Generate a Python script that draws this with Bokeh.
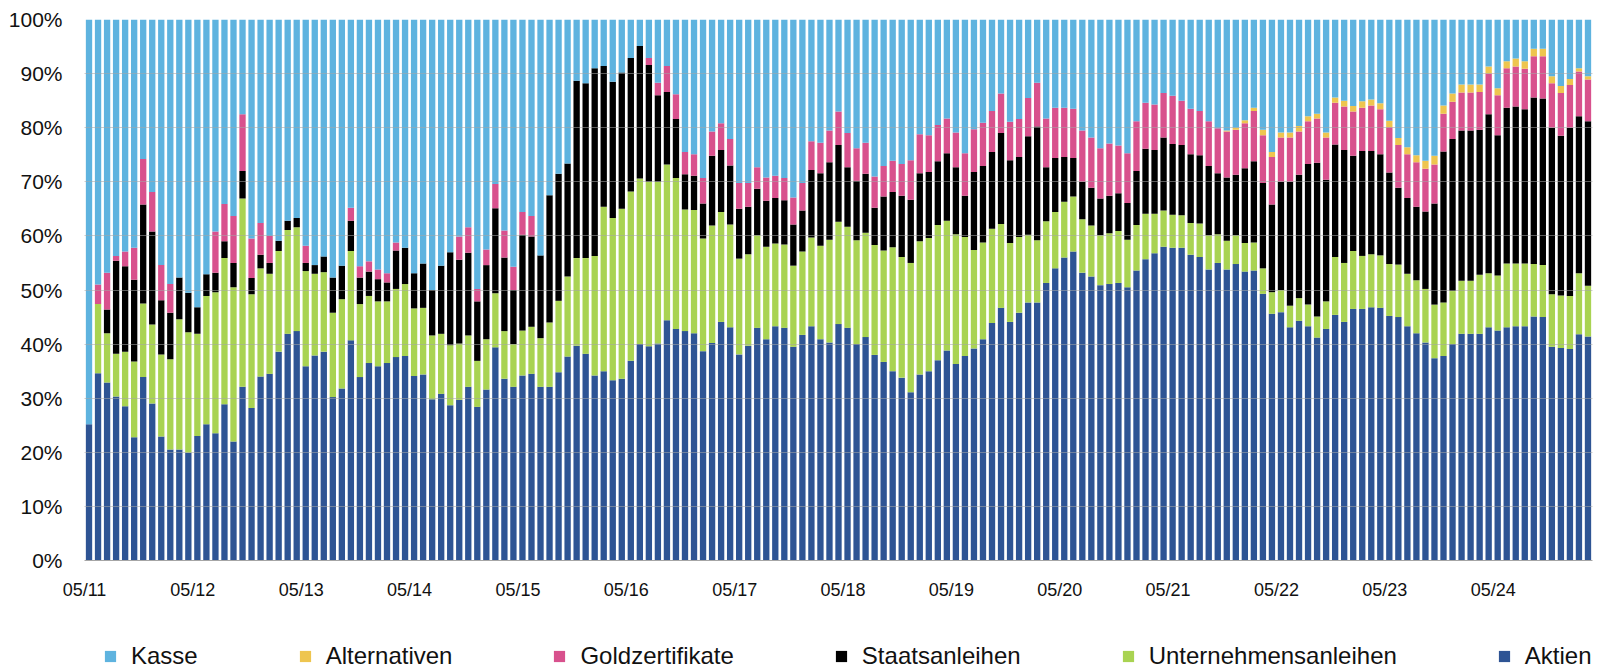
from bokeh.plotting import figure
from bokeh.layouts import column
from bokeh.models import (Range1d, FixedTicker, PrintfTickFormatter, Legend,
                          LegendItem, ColumnDataSource)
from bokeh.embed import file_html
from bokeh.resources import INLINE

# ---- data (percent of portfolio, monthly from 05/2011) ----
tick_labels = ["05/11", "05/12", "05/13", "05/14", "05/15", "05/16", "05/17",
               "05/18", "05/19", "05/20", "05/21", "05/22", "05/23", "05/24"]

aktien = [
    25.2, 34.6, 32.9, 30.3, 28.5, 22.8, 33.9, 29.0, 22.9, 20.5, 20.5, 19.9, 23.0, 25.2,
    23.5, 28.9, 22.0, 32.1, 28.2, 34.0, 34.5, 38.6, 41.9, 42.4, 35.9, 37.9, 38.6, 30.2,
    31.8, 40.7, 33.9, 36.5, 35.9, 36.5, 37.6, 37.8, 34.1, 34.4, 29.8, 30.8, 28.7, 29.7,
    32.1, 28.4, 31.6, 39.4, 33.6, 32.1, 34.2, 34.5, 32.1, 32.1, 34.8, 37.7, 39.7, 38.2,
    34.2, 35.0, 33.3, 33.6, 36.9, 40.0, 39.6, 40.1, 44.4, 42.8, 42.4, 42.0, 38.7, 40.2,
    44.1, 43.1, 38.1, 39.7, 43.0, 40.9, 43.3, 43.0, 39.5, 41.7, 43.3, 40.9, 40.3, 43.7,
    43.0, 40.0, 41.3, 38.0, 36.7, 35.0, 33.8, 31.1, 34.4, 35.0, 37.0, 38.8, 36.3, 37.8,
    39.2, 40.9, 43.9, 46.7, 44.1, 45.8, 47.7, 47.7, 51.3, 54.0, 56.0, 57.1, 53.2, 52.5,
    50.9, 51.1, 51.3, 50.5, 53.6, 55.7, 56.8, 58.0, 57.8, 57.8, 56.5, 56.1, 53.8, 55.0,
    53.8, 54.8, 53.4, 53.6, 49.3, 45.6, 45.9, 43.1, 44.3, 43.3, 41.2, 42.8, 45.4, 44.1,
    46.5, 46.5, 46.8, 46.7, 45.2, 45.0, 43.3, 42.0, 40.3, 37.4, 37.8, 40.0, 41.9, 41.9,
    41.9, 43.1, 42.5, 43.1, 43.3, 43.3, 45.1, 45.0, 39.5, 39.3, 39.1, 41.8, 41.4,
]
unternehmensanleihen = [
    0.0, 12.8, 9.1, 7.9, 10.1, 14.0, 13.6, 14.6, 15.2, 16.7, 24.1, 22.3, 18.9, 23.7,
    26.1, 27.0, 28.5, 34.8, 21.0, 20.0, 18.5, 18.6, 19.2, 19.2, 17.6, 15.1, 14.7, 15.6,
    16.5, 16.5, 13.5, 12.4, 12.0, 11.4, 12.6, 13.3, 12.5, 12.3, 11.8, 11.1, 11.1, 10.4,
    9.5, 8.5, 9.3, 10.0, 8.8, 7.9, 8.3, 8.7, 9.0, 11.9, 13.2, 14.8, 16.2, 17.7,
    22.1, 30.4, 30.0, 31.4, 31.3, 30.6, 30.4, 29.9, 28.8, 27.9, 22.5, 22.8, 20.8, 21.7,
    20.3, 19.0, 17.7, 16.9, 17.1, 17.1, 15.3, 15.4, 15.0, 15.4, 16.4, 17.3, 19.0, 18.9,
    18.7, 19.2, 19.3, 20.3, 20.6, 22.9, 22.3, 23.9, 24.6, 24.6, 25.0, 24.0, 24.0, 22.0,
    18.2, 17.9, 17.4, 15.5, 14.6, 14.0, 12.5, 11.5, 11.4, 10.4, 10.3, 10.2, 9.9, 9.4,
    9.2, 9.4, 9.6, 8.8, 8.4, 8.4, 7.3, 6.7, 6.1, 6.0, 5.9, 6.2, 6.3, 5.3,
    5.3, 5.3, 5.3, 5.2, 4.7, 4.0, 4.1, 4.0, 4.2, 4.0, 3.9, 5.1, 10.7, 10.9,
    10.7, 9.8, 9.8, 9.7, 9.6, 9.7, 9.7, 9.8, 9.9, 9.9, 9.9, 9.8, 9.8, 9.8,
    10.9, 10.0, 10.2, 11.8, 11.6, 11.6, 9.7, 9.6, 9.7, 9.7, 9.8, 11.3, 9.4,
]
staatsanleihen = [
    0.0, 0.0, 4.4, 17.2, 15.8, 15.1, 18.3, 17.2, 10.0, 8.6, 7.7, 7.3, 4.9, 4.0,
    3.6, 3.1, 4.5, 5.1, 3.0, 2.5, 2.0, 1.9, 1.7, 1.7, 1.5, 1.6, 2.9, 6.5,
    6.2, 5.6, 4.9, 4.5, 4.1, 3.5, 7.1, 6.7, 6.5, 8.2, 8.4, 12.6, 17.2, 15.5,
    15.3, 11.0, 13.7, 15.7, 13.6, 10.0, 17.7, 16.7, 15.3, 23.5, 23.5, 20.9, 32.8, 32.3,
    34.7, 26.0, 25.2, 25.2, 24.7, 24.5, 21.6, 16.0, 13.4, 10.9, 6.5, 6.3, 6.5, 12.9,
    11.5, 10.9, 9.2, 8.8, 8.6, 8.5, 8.4, 8.2, 7.6, 7.6, 12.5, 13.4, 14.3, 14.2,
    11.0, 11.0, 10.9, 6.9, 10.0, 10.2, 11.3, 11.7, 12.6, 12.2, 11.8, 12.5, 12.4, 7.6,
    14.4, 14.1, 14.2, 16.8, 15.3, 14.8, 18.2, 21.0, 10.0, 10.0, 8.3, 7.1, 6.9, 7.0,
    6.8, 6.9, 7.0, 6.8, 10.0, 12.0, 11.8, 13.5, 13.1, 13.0, 12.7, 12.6, 12.8, 11.3,
    11.7, 11.2, 13.8, 15.0, 15.8, 16.2, 20.0, 22.9, 22.8, 26.0, 28.4, 22.5, 20.8, 20.9,
    17.6, 19.4, 19.1, 18.7, 16.9, 14.2, 14.0, 13.6, 14.3, 18.7, 27.9, 28.1, 27.8, 27.8,
    26.8, 29.4, 25.9, 28.8, 29.0, 28.5, 30.8, 30.8, 30.8, 29.5, 31.1, 29.0, 30.4,
]
goldzertifikate = [
    0.0, 3.6, 6.8, 0.9, 2.7, 5.9, 8.4, 7.3, 6.5, 5.3, 0.0, 0.0, 0.0, 0.0,
    7.6, 6.9, 8.7, 10.5, 7.3, 5.9, 5.0, 0.0, 0.0, 0.0, 3.2, 0.0, 0.0, 0.0,
    0.0, 2.4, 2.1, 1.9, 1.8, 1.7, 1.5, 0.0, 0.0, 0.0, 0.0, 0.0, 0.0, 4.3,
    4.7, 2.3, 2.9, 4.5, 5.0, 4.3, 4.2, 3.8, 0.0, 0.0, 0.0, 0.0, 0.0, 0.0,
    0.0, 0.0, 0.0, 0.0, 0.0, 0.0, 1.3, 2.3, 4.8, 4.6, 4.1, 4.0, 4.7, 4.5,
    4.9, 4.9, 4.8, 4.4, 4.0, 4.3, 4.1, 4.1, 5.0, 5.1, 5.3, 5.6, 5.9, 6.2,
    6.3, 6.0, 5.7, 5.8, 5.6, 5.8, 5.9, 7.3, 7.2, 6.8, 6.7, 6.4, 6.4, 7.9,
    7.9, 8.0, 7.6, 7.3, 7.1, 7.0, 7.1, 8.1, 9.0, 9.3, 9.1, 9.1, 9.5, 9.3,
    9.3, 9.7, 8.8, 9.2, 9.2, 8.5, 8.4, 8.2, 8.9, 8.2, 8.4, 8.2, 8.3, 8.3,
    8.5, 8.3, 8.3, 9.3, 8.8, 8.8, 8.2, 8.2, 8.0, 7.9, 8.2, 7.8, 7.7, 8.0,
    8.2, 8.0, 8.4, 8.3, 8.4, 7.9, 8.1, 8.2, 7.9, 7.2, 7.0, 6.9, 7.0, 7.0,
    7.0, 7.5, 7.4, 7.3, 7.4, 7.5, 7.6, 7.8, 8.2, 7.9, 7.9, 8.3, 7.7,
]
alternativen = [
    0.0, 0.0, 0.0, 0.0, 0.0, 0.0, 0.0, 0.0, 0.0, 0.0, 0.0, 0.0, 0.0, 0.0,
    0.0, 0.0, 0.0, 0.0, 0.0, 0.0, 0.0, 0.0, 0.0, 0.0, 0.0, 0.0, 0.0, 0.0,
    0.0, 0.0, 0.0, 0.0, 0.0, 0.0, 0.0, 0.0, 0.0, 0.0, 0.0, 0.0, 0.0, 0.0,
    0.0, 0.0, 0.0, 0.0, 0.0, 0.0, 0.0, 0.0, 0.0, 0.0, 0.0, 0.0, 0.0, 0.0,
    0.0, 0.0, 0.0, 0.0, 0.0, 0.0, 0.0, 0.0, 0.0, 0.0, 0.0, 0.0, 0.0, 0.0,
    0.0, 0.0, 0.0, 0.0, 0.0, 0.0, 0.0, 0.0, 0.0, 0.0, 0.0, 0.0, 0.0, 0.0,
    0.0, 0.0, 0.0, 0.0, 0.0, 0.0, 0.0, 0.0, 0.0, 0.0, 0.0, 0.0, 0.0, 0.0,
    0.0, 0.0, 0.0, 0.0, 0.0, 0.0, 0.0, 0.0, 0.0, 0.0, 0.0, 0.0, 0.0, 0.0,
    0.0, 0.0, 0.0, 0.0, 0.0, 0.0, 0.0, 0.0, 0.0, 0.0, 0.0, 0.0, 0.0, 0.0,
    0.2, 0.4, 0.6, 0.6, 1.0, 0.9, 0.9, 0.9, 1.0, 0.9, 0.9, 0.9, 1.0, 1.1,
    1.0, 1.2, 1.1, 1.1, 1.2, 1.3, 1.3, 1.3, 1.5, 1.6, 1.5, 1.5, 1.5, 1.5,
    1.4, 1.3, 1.3, 1.3, 1.5, 1.4, 1.4, 1.4, 1.3, 1.3, 1.1, 0.6, 0.6,
]
kasse = [
    74.8, 49.0, 46.8, 43.7, 42.9, 42.2, 25.8, 31.9, 45.4, 48.9, 47.7, 50.5, 53.2, 47.1,
    39.2, 34.1, 36.3, 17.5, 40.5, 37.6, 40.0, 40.9, 37.2, 36.7, 41.8, 45.4, 43.8, 47.7,
    45.5, 34.8, 45.6, 44.7, 46.2, 46.9, 41.2, 42.2, 46.9, 45.1, 50.0, 45.5, 43.0, 40.1,
    38.4, 49.8, 42.5, 30.4, 39.0, 45.7, 35.6, 36.3, 43.6, 32.5, 28.5, 26.6, 11.3, 11.8,
    9.0, 8.6, 11.5, 9.8, 7.1, 4.9, 7.1, 11.7, 8.6, 13.8, 24.5, 24.9, 29.3, 20.7,
    19.2, 22.1, 30.2, 30.2, 27.3, 29.2, 28.9, 29.3, 32.9, 30.2, 22.5, 22.8, 20.5, 17.0,
    21.0, 23.8, 22.8, 29.0, 27.1, 26.1, 26.7, 26.0, 21.2, 21.4, 19.5, 18.3, 20.9, 24.7,
    20.3, 19.1, 16.9, 13.7, 18.9, 18.4, 14.5, 11.7, 18.3, 16.3, 16.3, 16.5, 20.5, 21.8,
    23.8, 22.9, 23.3, 24.7, 18.8, 15.4, 15.7, 13.6, 14.1, 15.0, 16.5, 16.9, 18.8, 20.1,
    20.5, 20.0, 18.6, 16.3, 20.4, 24.5, 20.9, 20.9, 19.7, 17.9, 17.4, 20.9, 14.4, 15.0,
    16.0, 15.1, 14.8, 15.5, 18.7, 21.9, 23.6, 25.1, 26.1, 25.2, 15.9, 13.7, 12.0, 12.0,
    12.0, 8.7, 12.7, 7.7, 7.2, 7.7, 5.4, 5.4, 10.5, 12.3, 11.0, 9.0, 10.5,
]

series = ["Aktien", "Unternehmensanleihen", "Staatsanleihen",
          "Goldzertifikate", "Alternativen", "Kasse"]
colors = ["#2E5494", "#A9D352", "#000000", "#D8518D", "#EEC54F", "#5EB3DF"]

n = len(aktien)
source = ColumnDataSource(dict(
    x=[i + 0.5 for i in range(n)],
    Aktien=aktien,
    Unternehmensanleihen=unternehmensanleihen,
    Staatsanleihen=staatsanleihen,
    Goldzertifikate=goldzertifikate,
    Alternativen=alternativen,
    Kasse=kasse,
))

FONT = "Liberation Sans"

# ---------------- main chart ----------------
p = figure(width=1596, height=620, output_backend="svg", toolbar_location=None,
           x_range=Range1d(0, n), y_range=Range1d(0, 100),
           min_border_left=84, min_border_right=4, min_border_top=19,
           min_border_bottom=60)
p.outline_line_color = None
p.background_fill_color = "white"

renderers = p.vbar_stack(series, x="x", width=0.7, fill_color=colors,
                         line_color=None, source=source)

# y axis
p.yaxis.ticker = FixedTicker(ticks=list(range(0, 101, 10)))
p.yaxis.formatter = PrintfTickFormatter(format="%d%%")
p.yaxis.axis_line_color = None
p.yaxis.major_tick_line_color = None
p.yaxis.minor_tick_line_color = None
p.yaxis.major_label_standoff = 16
p.yaxis.major_label_text_font = FONT
p.yaxis.major_label_text_font_size = "21px"
p.yaxis.major_label_text_color = "#111111"

# x axis
tick_pos = [12 * k for k in range(len(tick_labels))]
p.xaxis.ticker = FixedTicker(ticks=tick_pos)
p.xaxis.major_label_overrides = {t: lab for t, lab in zip(tick_pos, tick_labels)}
p.xaxis.axis_line_color = "#A6A6A6"
p.xaxis.major_tick_line_color = None
p.xaxis.minor_tick_line_color = None
p.xaxis.major_label_standoff = 13
p.xaxis.major_label_text_font = FONT
p.xaxis.major_label_text_font_size = "18px"
p.xaxis.major_label_text_color = "#111111"

# grid
p.xgrid.visible = False
p.ygrid.ticker = FixedTicker(ticks=list(range(10, 101, 10)))
p.ygrid.grid_line_color = "#A6A6A6"
p.ygrid.grid_line_alpha = 0.55
p.ygrid.level = "overlay"

# ---------------- legend strip ----------------
lg = figure(width=1596, height=50, output_backend="svg", toolbar_location=None,
            x_range=Range1d(0, 1), y_range=Range1d(0, 1),
            x_axis_location=None, y_axis_location=None,
            min_border_left=84, min_border_right=4, min_border_top=0,
            min_border_bottom=0)
lg.outline_line_color = None
lg.xgrid.visible = False
lg.ygrid.visible = False

# zero-height proxy bars: they only provide the colour keys of the legend
proxy_src = ColumnDataSource(dict(x=[0.5], top=[0.0], bottom=[0.0]))
proxies = {}
for s, c in zip(series, colors):
    proxies[s] = lg.vbar(x="x", top="top", bottom="bottom", width=0.1,
                         fill_color=c, line_color=None, source=proxy_src)

items = [LegendItem(label=s, renderers=[proxies[s]]) for s in reversed(series)]
legend = Legend(items=items, orientation="horizontal", location=(19, 0),
                spacing=100, label_standoff=14, glyph_width=14, glyph_height=14,
                label_text_font=FONT, label_text_font_size="24px",
                label_text_color="#111111", padding=0, margin=0,
                border_line_color=None, background_fill_alpha=0)
lg.add_layout(legend)

layout = column(p, lg, spacing=0)
open("out.html", "w").write(file_html(layout, INLINE))
